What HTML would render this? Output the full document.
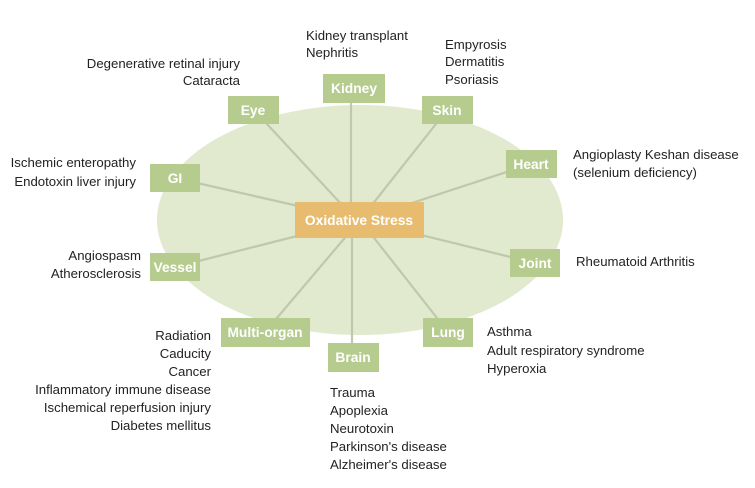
<!DOCTYPE html>
<html><head><meta charset="utf-8"><style>
html,body{margin:0;padding:0;background:#fff;}
svg{display:block;}
text{font-family:"Liberation Sans",sans-serif;font-size:13.2px;fill:#222;}
.b{font-weight:bold;fill:#fff;font-size:13.8px;}
</style></head><body>
<svg width="755" height="488" viewBox="0 0 755 488">
<ellipse cx="360" cy="220" rx="203" ry="115" fill="#e1e9cf"/>
<g stroke="#bfc8ad" stroke-width="2.2">
<line x1="356" y1="220" x2="254" y2="110"/>
<line x1="351" y1="220" x2="351" y2="88"/>
<line x1="360" y1="220" x2="447" y2="110"/>
<line x1="360" y1="220" x2="531" y2="164"/>
<line x1="360" y1="220" x2="175" y2="178"/>
<line x1="360" y1="220" x2="175" y2="267"/>
<line x1="360" y1="220" x2="535" y2="263"/>
<line x1="360" y1="220" x2="265" y2="332"/>
<line x1="360" y1="220" x2="448" y2="332"/>
<line x1="352" y1="220" x2="352" y2="357"/>
</g>
<g fill="#b5cc8e">
<rect x="323" y="74" width="62" height="29"/>
<rect x="228" y="96" width="51" height="28"/>
<rect x="422" y="96" width="51" height="28"/>
<rect x="506" y="150" width="51" height="28"/>
<rect x="150" y="164" width="50" height="28"/>
<rect x="150" y="253" width="50" height="28"/>
<rect x="510" y="249" width="50" height="28"/>
<rect x="221" y="318" width="89" height="29"/>
<rect x="423" y="318" width="50" height="29"/>
<rect x="328" y="343" width="51" height="29"/>
</g>
<rect x="295" y="202" width="129" height="36" fill="#e8bc6e"/>
<g text-anchor="middle">
<text class="b" x="354" y="93">Kidney</text>
<text class="b" x="253" y="115">Eye</text>
<text class="b" x="447" y="115">Skin</text>
<text class="b" x="531" y="169">Heart</text>
<text class="b" x="175" y="183">GI</text>
<text class="b" x="175" y="272">Vessel</text>
<text class="b" x="535" y="268">Joint</text>
<text class="b" x="265" y="337">Multi-organ</text>
<text class="b" x="448" y="337">Lung</text>
<text class="b" x="353" y="362">Brain</text>
<text class="b" x="359" y="225">Oxidative Stress</text>
</g>
<text x="306" y="40">Kidney transplant</text>
<text x="306" y="57">Nephritis</text>
<text x="445" y="49">Empyrosis</text>
<text x="445" y="66">Dermatitis</text>
<text x="445" y="84">Psoriasis</text>
<g text-anchor="end">
<text x="240" y="68">Degenerative retinal injury</text>
<text x="240" y="85">Cataracta</text>
<text x="136" y="167">Ischemic enteropathy</text>
<text x="136" y="186">Endotoxin liver injury</text>
<text x="141" y="260">Angiospasm</text>
<text x="141" y="278">Atherosclerosis</text>
<text x="211" y="340">Radiation</text>
<text x="211" y="358">Caducity</text>
<text x="211" y="376">Cancer</text>
<text x="211" y="394">Inflammatory immune disease</text>
<text x="211" y="412">Ischemical reperfusion injury</text>
<text x="211" y="430">Diabetes mellitus</text>
</g>
<text x="573" y="159">Angioplasty Keshan disease</text>
<text x="573" y="177">(selenium deficiency)</text>
<text x="576" y="266">Rheumatoid Arthritis</text>
<text x="487" y="336">Asthma</text>
<text x="487" y="355">Adult respiratory syndrome</text>
<text x="487" y="373">Hyperoxia</text>
<text x="330" y="397">Trauma</text>
<text x="330" y="415">Apoplexia</text>
<text x="330" y="433">Neurotoxin</text>
<text x="330" y="451">Parkinson's disease</text>
<text x="330" y="469">Alzheimer's disease</text>
</svg>
</body></html>
